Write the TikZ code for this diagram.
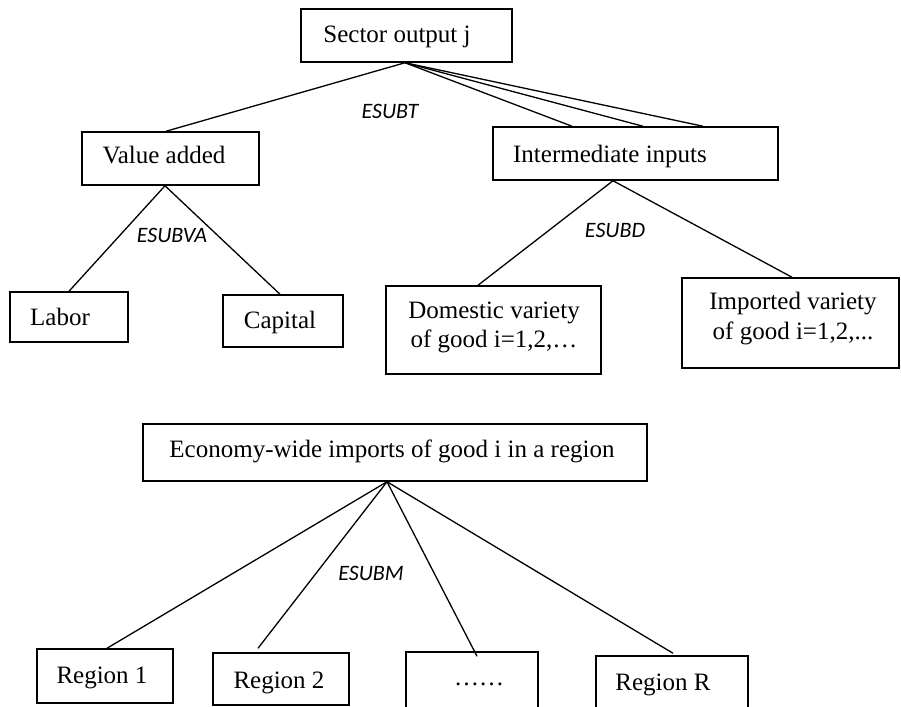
\documentclass[tikz,border=0pt]{standalone}
\usepackage{fontspec}
\setmainfont{Liberation Serif}
\newfontfamily\calfont{Carlito}
\usetikzlibrary{calc}
\tikzset{
  boxnode/.style={draw, line width=1.5pt, inner sep=0pt},
  txt/.style={inner sep=0pt, anchor=base, font=\fontsize{25}{29}\selectfont},
  txttwo/.style={inner sep=0pt, anchor=center, align=center},
  esub/.style={inner sep=0pt, font=\calfont\itshape\fontsize{22}{26}\selectfont},
  link/.style={line width=1.3pt},
}
\begin{document}
\begin{tikzpicture}[x=1pt,y=-1pt]
\useasboundingbox (0,0) rectangle (901,706);
\clip (0,0) rectangle (901,706);

% boxes
\node[boxnode, minimum width=211pt, minimum height=53pt] (so) at (406.5,35.5) {};
\node[boxnode, minimum width=177pt, minimum height=53pt] (va) at (170.5,158.5) {};
\node[boxnode, minimum width=118pt, minimum height=50pt] (lab) at (69,317) {};
\node[boxnode, minimum width=120pt, minimum height=52pt] (cap) at (283,321) {};
\node[boxnode, minimum width=285pt, minimum height=53pt] (ii) at (635.5,153.5) {};
\node[boxnode, minimum width=215pt, minimum height=88pt] (dom) at (493.5,330) {};
\node[boxnode, minimum width=217pt, minimum height=90pt] (imp) at (790.5,323) {};
\node[boxnode, minimum width=504pt, minimum height=57pt] (eco) at (395,452.5) {};
\node[boxnode, minimum width=136pt, minimum height=54pt] (r1) at (105,676) {};
\node[boxnode, minimum width=136pt, minimum height=52pt] (r2) at (281,679) {};
\node[boxnode, minimum width=132pt, minimum height=58pt] (rd) at (472,681) {};
\node[boxnode, minimum width=152pt, minimum height=54pt] (rR) at (672,683) {};

% texts
\node[txt] (sot) at (397,43) {Sector output j};
\node[txt] (vat) at (164,163) {Value added};
\node[txt] (labt) at (60,325) {Labor};
\node[txt] (capt) at (280,328) {Capital};
\node[txt] (iit) at (610,162) {Intermediate inputs};
\node[txttwo, font=\fontsize{25}{29}\selectfont] (domt) at (494,327) {Domestic variety\\of good i=1,2,…};
\node[txttwo, font=\fontsize{25}{30}\selectfont] (impt) at (793,319) {Imported variety\\of good i=1,2,...};
\node[txt] (ecot) at (392,457) {Economy-wide imports of good i in a region};
\node[txt] (r1t) at (102,683) {Region 1};
\node[txt] (r2t) at (279,688) {Region 2};
\node[txt] (rdt) at (479,685) {……};
\node[txt] (rRt) at (663,690) {Region R};

% elasticity labels
\node[esub] (esubt) at (390,111) {ESUBT};
\node[esub] (esubva) at (172,235) {ESUBVA};
\node[esub] (esubd) at (615,230) {ESUBD};
\node[esub] (esubm) at (371,573) {ESUBM};

% connectors
\draw[link] ([xshift=-1.5pt]so.south) -- ([xshift=-4.5pt]va.north);
\draw[link] ([xshift=-1.5pt]so.south) -- ([xshift=-63.5pt]ii.north);
\draw[link] ([xshift=-1.5pt]so.south) -- ([xshift=7.5pt]ii.north);
\draw[link] ([xshift=-1.5pt]so.south) -- ([xshift=67.5pt]ii.north);

\draw[link] ([xshift=-5.5pt]va.south) -- (lab.north);
\draw[link] ([xshift=-5.5pt]va.south) -- ([xshift=-3pt]cap.north);

\draw[link] ([xshift=-22.5pt]ii.south) -- ([xshift=-15.5pt]dom.north);
\draw[link] ([xshift=-22.5pt]ii.south) -- ([xshift=1.5pt]imp.north);

\draw[link] ([xshift=-8pt]eco.south) -- ([xshift=2pt]r1.north);
\draw[link] ([xshift=-8pt]eco.south) -- ([xshift=-23pt,yshift=4pt]r2.north);
\draw[link] ([xshift=-8pt]eco.south) -- ([xshift=5pt,yshift=-5pt]rd.north);
\draw[link] ([xshift=-8pt]eco.south) -- ([xshift=1pt,yshift=2pt]rR.north);
\end{tikzpicture}
\end{document}
